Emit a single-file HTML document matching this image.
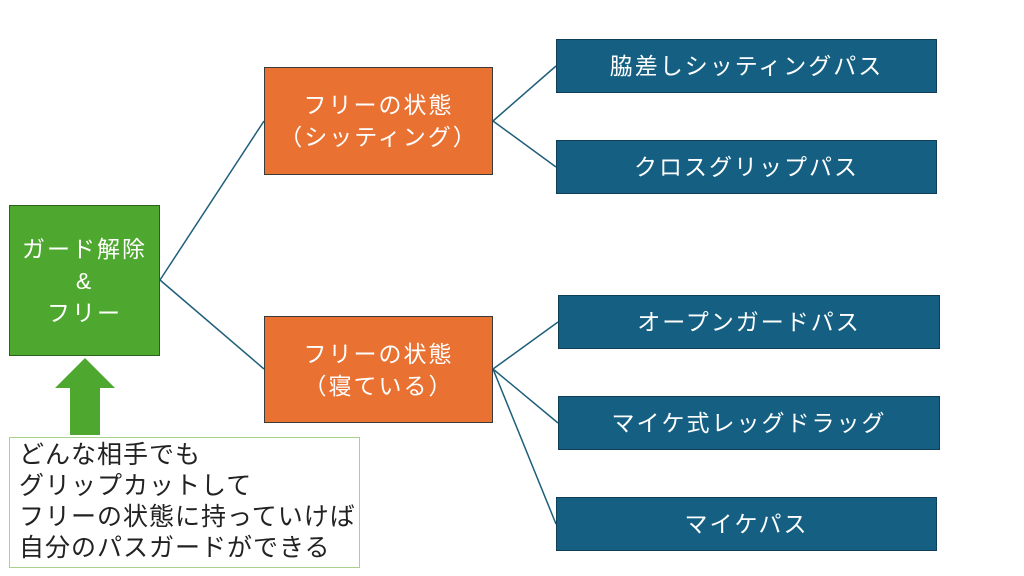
<!DOCTYPE html>
<html><head><meta charset="utf-8"><style>
body{margin:0;width:1024px;height:576px;background:#fff;position:relative;overflow:hidden;font-family:"Liberation Sans","Noto Sans CJK JP",sans-serif;}
.b{position:absolute;box-sizing:border-box;display:flex;align-items:center;justify-content:center;text-align:center;color:#fff;font-size:23px;line-height:32px;letter-spacing:2px;}
.g{background:#4ea72e;border:1.5px solid #2f5f1c;}
.o{background:#e97132;border:1.5px solid #3a3a3a;}
.u{background:#156082;border:1.5px solid #0e3f56;}
</style></head><body>
<svg width="1024" height="576" style="position:absolute;left:0;top:0">
<g stroke="#1f5f7a" stroke-width="1.5" fill="none">
<line x1="160" y1="280" x2="264" y2="121"/><line x1="160" y1="280" x2="264" y2="369"/>
<line x1="493" y1="121" x2="556" y2="66"/><line x1="493" y1="121" x2="556" y2="167"/>
<line x1="493" y1="369" x2="558" y2="322"/><line x1="493" y1="369" x2="558" y2="423"/><line x1="493" y1="369" x2="556" y2="524"/>
</g>
<polygon points="85,358 115,388 100,388 100,435 70,435 70,388 55,388" fill="#4ea72e"/>
</svg>
<div class="b g" style="left:9px;top:205px;width:151px;height:151px">ガード解除<br>&amp;<br>フリー</div>
<div class="b o" style="left:264px;top:67px;width:229px;height:108px">フリーの状態<br>（シッティング）</div>
<div class="b o" style="left:264px;top:316px;width:229px;height:107px">フリーの状態<br>（寝ている）</div>
<div class="b u" style="left:556px;top:39px;width:381px;height:54px">脇差しシッティングパス</div>
<div class="b u" style="left:556px;top:140px;width:381px;height:54px">クロスグリップパス</div>
<div class="b u" style="left:558px;top:295px;width:382px;height:54px">オープンガードパス</div>
<div class="b u" style="left:558px;top:396px;width:382px;height:54px">マイケ式レッグドラッグ</div>
<div class="b u" style="left:556px;top:497px;width:381px;height:54px">マイケパス</div>
<div style="position:absolute;left:9px;top:437px;width:351px;height:131px;box-sizing:border-box;border:1px solid #a9d18e;padding:2px 0 0 9px;font-size:25px;letter-spacing:1px;line-height:31px;color:#222;white-space:nowrap;">どんな相手でも<br>グリップカットして<br>フリーの状態に持っていけば<br>自分のパスガードができる</div>
</body></html>
